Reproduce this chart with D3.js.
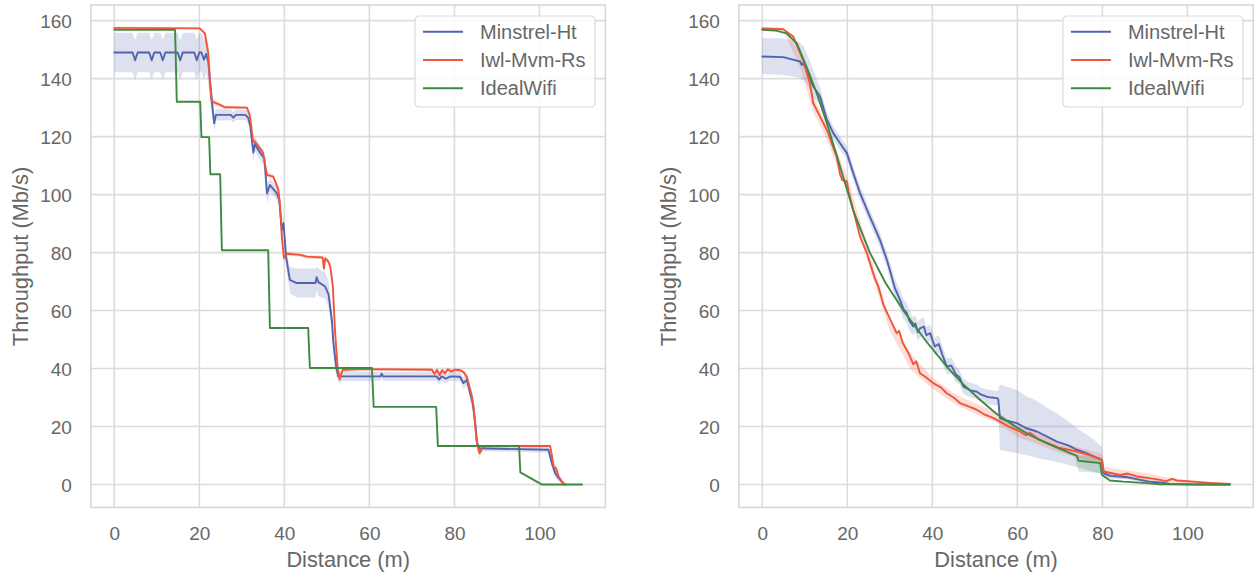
<!DOCTYPE html>
<html>
<head>
<meta charset="utf-8">
<script src="https://cdn.jsdelivr.net/npm/d3@7"></script>
<style>
  html, body { margin: 0; padding: 0; background: #fff; }
  svg { display: block; font-family: "Liberation Sans", Arial, sans-serif; }
</style>
</head>
<body>
<svg id="chart" width="1255" height="575"></svg>
<script>
// ---------------- DATA ----------------
const seriesNames = ["Minstrel-Ht", "Iwl-Mvm-Rs", "IdealWifi"];
const xTicks = [0, 20, 40, 60, 80, 100];
const yTicks = [0, 20, 40, 60, 80, 100, 120, 140, 160];

// Left panel – Minstrel-Ht mean and confidence band (same distances)
const minstrelLeftX = [0,4.3,4.9,5.5,8.2,8.8,9.4,10.8,11.4,12,14.9,15.5,16.1,18.8,19.4,20,20.5,21.1,21.6,22.1,22.7,23.2,23.5,23.9,27.4,28,28.6,30.8,31.5,32,32.7,33.1,33.6,34.5,35.3,35.9,36.6,38.2,38.8,39.4,39.8,40.4,40.9,41.3,42.9,47.3,47.6,48,49.6,50.4,51.2,51.5,52.2,52.7,62.6,62.9,63.2,75.8,76.4,77,78,79,81.3,82.1,82.9,83.7,84.3,84.9,85.3,85.9,102.1,102.9,103.7,104.5,105.6,106];
const minstrelLeftY = [149,149,146.3,149,149,146.3,149,149,146.3,149,149,146.3,149,149,146.3,149,149,146.5,148.5,146,136,128.5,124.6,127.5,127.5,126.5,127.5,127.5,126.5,123.5,114.5,117.5,116,114,112.5,100.5,103.3,100.5,98.2,87.8,90.1,78.6,74,70.6,69.5,69.5,71.5,69.8,68.3,65.5,56.3,49.4,40.2,37.3,37.3,38.2,37.3,37.3,36.2,37.3,36.5,37.3,37.2,35,36.1,31.5,28,21.2,14.3,12.5,12,7.4,3.9,2.2,0.5,0];
const minstrelLeftHi = [155.8,155.8,153.3,155.8,155.8,153.3,155.8,155.8,153.3,155.8,155.8,153.3,155.8,155.8,153.3,155.8,155.8,153.5,155,152,141,131.5,127.5,129.5,129.3,128.5,129.3,129.3,128.5,126,117.5,120,118.5,116.5,115,104,105.5,102.5,100.5,91,92.5,82,77.5,75,74.5,74.5,75,74.5,73,70,60,53,42.5,39,38.8,39.7,38.8,38.8,37.8,38.8,38,38.8,38.7,37,38,34,31,24.5,17,13.5,13,9,5.5,3.3,0.9,0];
const minstrelLeftLo = [142.2,142.2,139.5,142.2,142.2,139.5,142.2,142.2,139.5,142.2,142.2,139.5,142.2,142.2,139.5,142.2,142.2,139.5,142,139,130,125,122,125.5,125.7,124.8,125.7,125.7,124.5,121,111.5,115,113.5,111.5,109.5,97,101,98.5,96,84.5,87.5,75,70,66,64.5,64.5,67,65,64,61,52,45.5,37.5,35.6,35.8,36.7,35.8,35.8,34.6,35.8,35,35.8,35.7,33,34.2,29,25,18,11.5,11.5,11,5.8,2.3,1.1,0.1,0];

// Left panel – Iwl-Mvm-Rs mean and band
const iwlLeftX = [0,20.1,21.3,22.1,22.5,22.9,24.9,26,31.2,31.9,32.6,33.5,35,35.9,37.4,38.6,39,39.4,39.9,40.6,43.7,45.3,49,49.3,49.6,50.3,50.8,51.4,51.9,52.5,53,53.7,57.8,74.7,75.3,75.9,76.5,77.1,77.8,78.4,79.3,80.2,81.3,82.1,82.9,83.5,84.1,84.5,84.9,85.3,85.9,86.7,87.5,102.5,102.9,103.3,103.9,104.5,105.3,106];
const iwlLeftY = [157.5,157.3,155.6,148.8,138.4,132.1,130.9,130.1,130,127.2,118.9,117.4,114.3,106.8,106.2,101.6,95.9,85.5,78.1,79.6,79.2,78.6,78.3,74.5,78,77,75.2,68.3,53.3,40.7,36.3,39.5,39.8,39.6,38.2,39.5,37.8,39.4,38.4,39.7,39,39.6,39.4,38.8,37.2,33.8,30.3,26.9,20,14.3,10.8,12.9,13.3,13.3,10.2,6.2,5.6,2.8,1,0];
const iwlLeftHi = [157.9,157.7,156.5,151,141.5,133.5,131.5,130.6,130.5,128.2,120.5,118.3,115.5,107.8,107,103,98,88,80,80.3,79.8,79.2,78.9,76.5,78.7,77.8,76.5,71,56.5,43,38.5,40.3,40.3,40.1,39.3,40.3,39,40.2,39.4,40.4,39.8,40.2,40,39.6,38.5,35.5,32.3,29,22.5,16.5,12.5,13.6,13.7,13.7,11.3,7.8,6.8,3.6,1.4,0];
const iwlLeftLo = [157.1,156.9,154.5,146.5,135.5,130.8,130.2,129.6,129.5,126.2,117.3,116.5,113.1,105.8,105.4,100.2,93.8,83,76.5,78.9,78.6,78,77.7,72.5,77.3,76.2,73.9,65.6,50,38.4,34,38.7,39.3,39.1,37.1,38.7,36.6,38.6,37.4,39,38.2,39,38.8,38,35.9,32.1,28.3,24.8,17.5,12.1,9.1,12.2,12.9,12.9,9.1,4.6,4.4,2,0.6,0];

// Left panel – IdealWifi
const idealLeftX = [0,14.3,14.7,20.2,20.5,22.3,22.6,24.9,25.3,36.2,36.6,45.6,46,60.6,61,75.7,76.1,95.2,95.5,100.6,110];
const idealLeftY = [156.8,156.8,132,132,119.8,119.8,107,107,80.8,80.8,54,54,40.2,40.2,26.8,26.8,13.3,13.3,4.2,0,0];

// Right panel – Minstrel-Ht mean and band
const minstrelRightX = [0,4.9,8.9,9.2,9.6,10.4,12,13,13.6,15.2,16.7,18.3,19.9,21.4,23,25.3,27.7,29.3,30,31.2,32.4,33.2,34,34.6,35.5,36,36.6,37.1,38,38.6,39.5,40.1,40.6,41.5,42.3,43.4,44.5,45.5,46.4,47.3,49,50.5,51.5,52.8,54,55.2,55.5,55.9,57.5,59.9,62,64.6,67,69.3,72,74,76,77.9,79.9,80.3,82,84.2,86,88.9,91,93.6,96,101.4,110];
const minstrelRightY = [147.6,147.4,145.9,144.8,145.3,143,137.2,135.2,133.8,125.8,121.2,117.7,114.3,107.4,100.5,92.4,84.3,77.5,74,67.7,63.7,60.5,59.1,56.5,54.5,55.5,52.5,53.9,54.5,51.5,52.2,49.5,47.6,48.5,45,40.7,41,38,37,33.8,32.5,32,31,30.3,30,29.8,29.5,22.9,22,21.2,19.5,18.3,16.5,14.8,13.5,12,11,9.7,8.5,3.9,3,2.8,2.5,1.6,1,0.7,0.2,0,0];
const minstrelRightHi = [154,153.8,152.5,151.5,151.5,149,143,139,137,128.3,123.5,120,116.5,109.8,103,94.8,86.8,80,77,71,67,64,62.5,60,57.5,58.5,55.8,57,57.5,54.5,55,52.5,50.5,51.5,48,43.5,43.8,40.8,39.5,36.5,35,34.5,33.5,32.8,32.5,32.3,32.5,34.5,33.8,32.5,30.5,28.8,26.5,24.5,21.8,19.5,17.5,15.5,13,5,4,3.6,3.3,2.3,1.6,1.1,0.5,0.1,0];
const minstrelRightLo = [141.5,141.3,140.2,139.5,139.8,138.5,133.5,131.8,130.8,123.5,119,115.5,112.2,105,98,90,81.8,75,71,64.5,60.5,57,55.8,53,51.5,52.5,49.5,50.8,51.5,48.5,49.5,46.5,44.5,45.5,42,38,38.3,35.3,34.5,31.2,30,29.5,28.5,27.8,27.5,27.3,27,12,11.5,10.8,10.2,9.2,8.5,7.8,6.8,6,5.2,4.4,3.5,2.5,2.1,2,1.8,1,0.5,0.3,0,0,0];

// Right panel – Iwl-Mvm-Rs mean and band
const iwlRightX = [0,4.9,7.3,9.6,11.2,12,13.6,14.8,15.5,16.3,17.5,18.3,18.8,19.9,20.3,21.4,23,24.6,26.5,27.3,28.5,29.6,31.6,32.2,33,34.4,35.5,36.2,37.1,38.5,40.2,42,43.4,45,46.5,48.5,50.4,52.5,54.4,55.9,58,60.6,62,63,65.3,68,70,74,77.9,79.9,80.3,82,84.2,86,88.1,91,93.6,95,96.5,97.5,101.4,105,110];
const iwlRightY = [157.3,157,154.5,146.4,138.4,131.5,126.9,123.4,121.2,117.7,113.1,107,105,104.5,101,94.7,85.5,79.8,71,68.3,62,58.5,52.2,53,49,45.3,41.5,42.5,38.4,37,35,33.5,31.5,30,28.1,27,25.8,24,22.9,21.7,20,18.3,17,17.8,15.4,13.8,12.6,11.4,9.7,8.5,4.5,4,3.3,3.8,2.8,2.2,1.6,1.2,2,1.4,1,0.6,0.2];
const iwlRightBandX = [0,5,9,12,15,20,25,30,35,40,45,50,55,60,70,80,80.3,85,90,95,100,110];
const iwlRightHi = [157.8,157.5,148.5,134,124.5,106,81,57,45,37,31.5,28,25,20.5,14.5,10.5,6,5,4,2.5,1.5,0.5];
const iwlRightLo = [156.8,156.5,143.5,128.5,119.5,101,76,53,39.5,33,28,24.5,21.5,16.5,11,7,2.5,2,1.5,0.5,0.3,0];

// Right panel – IdealWifi
const idealRightX = [0,3,5.7,8.1,10.4,12.8,15.2,18.3,21.4,25.3,29,33.2,38.5,43.8,47,51,55,59,63,66.1,70,74,74.4,79.5,79.9,81.8,85,89.6,93.6,110];
const idealRightY = [156.8,156.6,155.6,152.2,144.1,135,124.6,109.7,94.5,80,69.5,60,49.5,40,35,29.5,24.5,20.5,17,14.8,12.3,9.9,8.2,7.4,3.3,1.4,1,0.6,0.1,0];
const idealRightBandX = [73.5,74.4,79.5,80];
const idealRightHi = [10.2,10,9.3,3.5];
const idealRightLo = [9.6,4.5,4,3];

// ---------------- DRAW ----------------
const colors = ["#5263b0", "#f0553b", "#3d8a40"];
const svg = d3.select("#chart");
const textColor = "#676767";
const gridColor = "#dcdcdc";

function pts(xs, ys) { return d3.zip(xs, ys); }
function band(xs, lo, hi) { return xs.map((x, i) => [x, lo[i], hi[i]]); }

function drawPanel(cfg) {
  const x = d3.scaleLinear().domain([-5.5, 115.5]).range([cfg.left, cfg.right]);
  const y = d3.scaleLinear().domain([-7.875, 165.375]).range([507.4, 5]);
  const g = svg.append("g");

  // grid
  g.append("g").selectAll("line").data(xTicks).join("line")
    .attr("x1", d => x(d)).attr("x2", d => x(d))
    .attr("y1", y.range()[0]).attr("y2", y.range()[1])
    .attr("stroke", gridColor).attr("stroke-width", 1.6);
  g.append("g").selectAll("line").data(yTicks).join("line")
    .attr("y1", d => y(d)).attr("y2", d => y(d))
    .attr("x1", cfg.left).attr("x2", cfg.right)
    .attr("stroke", gridColor).attr("stroke-width", 1.6);

  // frame
  g.append("rect").attr("x", cfg.left).attr("y", 5)
    .attr("width", cfg.right - cfg.left).attr("height", 507.4 - 5)
    .attr("fill", "none").attr("stroke", "#d6d6d6").attr("stroke-width", 1.6);

  // ticks via d3 axes (styled)
  const xAxis = g.append("g").attr("transform", `translate(0,507.4)`)
    .call(d3.axisBottom(x).tickValues(xTicks).tickSize(0).tickPadding(20).tickFormat(d3.format("d")));
  const yAxis = g.append("g").attr("transform", `translate(${cfg.left},0)`)
    .call(d3.axisLeft(y).tickValues(yTicks).tickSize(0).tickPadding(19).tickFormat(d3.format("d")));
  [xAxis, yAxis].forEach(a => {
    a.select(".domain").remove();
    a.selectAll("text").attr("fill", textColor).style("font-size", "19px")
      .style("font-family", '"Liberation Sans", Arial, sans-serif');
  });
  xAxis.selectAll("text").attr("dy", null).attr("y", 33);
  yAxis.selectAll("text").attr("dy", "0.35em");

  // axis labels
  g.append("text").attr("x", (cfg.left + cfg.right) / 2).attr("y", 566.5)
    .attr("text-anchor", "middle").attr("fill", textColor).style("font-size", "21.8px")
    .text("Distance (m)");
  g.append("text")
    .attr("transform", `translate(${cfg.left - 62.5},256.5) rotate(-90)`)
    .attr("text-anchor", "middle").attr("fill", textColor).style("font-size", "21.8px")
    .text("Throughput (Mb/s)");

  // bands
  const area = d3.area().x(d => x(d[0])).y0(d => y(d[1])).y1(d => y(d[2]));
  cfg.bands.forEach(b => {
    g.append("path").datum(b.data).attr("d", area)
      .attr("fill", colors[b.c]).attr("fill-opacity", 0.2).attr("stroke", "none");
  });

  // lines
  const line = d3.line().x(d => x(d[0])).y(d => y(d[1]));
  cfg.lines.forEach(l => {
    g.append("path").datum(l.data).attr("d", line)
      .attr("fill", "none").attr("stroke", colors[l.c]).attr("stroke-width", 1.9)
      .attr("stroke-linejoin", "round").attr("stroke-linecap", "round");
  });

  // legend
  const lx = cfg.right - 190.4, ly = 16;
  const lg = g.append("g").attr("transform", `translate(${lx},${ly})`);
  lg.append("rect").attr("width", 180).attr("height", 91).attr("rx", 4)
    .attr("fill", "#fff").attr("fill-opacity", 0.85)
    .attr("stroke", "#d9d9d9").attr("stroke-width", 1.2);
  seriesNames.forEach((name, i) => {
    const yy = 15.7 + i * 28.3;
    lg.append("line").attr("x1", 8).attr("x2", 48).attr("y1", yy).attr("y2", yy)
      .attr("stroke", colors[i]).attr("stroke-width", 1.9);
    lg.append("text").attr("x", 65).attr("y", yy).attr("dy", "0.35em")
      .attr("fill", textColor).style("font-size", "20px").text(name);
  });
}

drawPanel({
  left: 90.9, right: 605.4,
  bands: [
    { c: 0, data: band(minstrelLeftX, minstrelLeftLo, minstrelLeftHi) },
    { c: 1, data: band(iwlLeftX, iwlLeftLo, iwlLeftHi) }
  ],
  lines: [
    { c: 0, data: pts(minstrelLeftX, minstrelLeftY) },
    { c: 1, data: pts(iwlLeftX, iwlLeftY) },
    { c: 2, data: pts(idealLeftX, idealLeftY) }
  ]
});

drawPanel({
  left: 738.9, right: 1253.3,
  bands: [
    { c: 0, data: band(minstrelRightX, minstrelRightLo, minstrelRightHi) },
    { c: 1, data: band(iwlRightBandX, iwlRightLo, iwlRightHi) },
    { c: 2, data: band(idealRightBandX, idealRightLo, idealRightHi) }
  ],
  lines: [
    { c: 0, data: pts(minstrelRightX, minstrelRightY) },
    { c: 1, data: pts(iwlRightX, iwlRightY) },
    { c: 2, data: pts(idealRightX, idealRightY) }
  ]
});
</script>
</body>
</html>
